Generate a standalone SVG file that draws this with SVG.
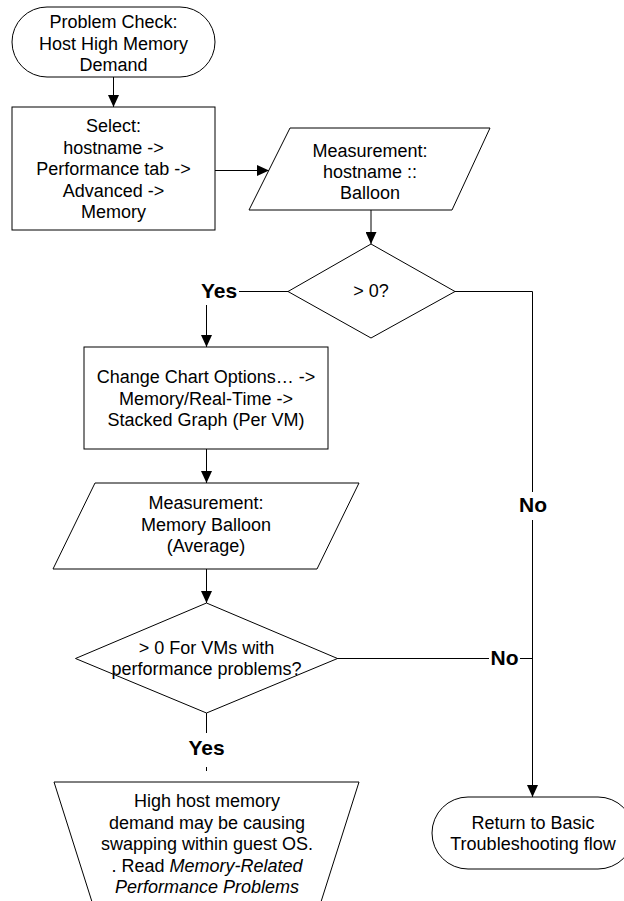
<svg xmlns="http://www.w3.org/2000/svg" width="624" height="901" viewBox="0 0 624 901">
<style>
.s{fill:#fff;stroke:#000;stroke-width:1}
.c{fill:none;stroke:#000;stroke-width:1}
.t{font-family:"Liberation Sans",Arial,sans-serif;font-size:18px;text-anchor:middle;fill:#000}
.l{font-family:"Liberation Sans",Arial,sans-serif;font-size:21px;font-weight:bold;text-anchor:middle;fill:#000}
.bg{fill:#fff;stroke:none}
</style>
<defs>
<marker id="ah" markerUnits="userSpaceOnUse" markerWidth="12" markerHeight="11" refX="12" refY="5.5" orient="auto">
<path d="M0,0 L12,5.5 L0,11 z" fill="#000"/>
</marker>
</defs>
<rect width="624" height="901" fill="#fff"/>
<g id="connectors">
<path class="c" d="M113.5,77 V107" marker-end="url(#ah)"/>
<path class="c" d="M215,170.5 H269" marker-end="url(#ah)"/>
<path class="c" d="M371,210 V244" marker-end="url(#ah)"/>
<path class="c" d="M288,291.5 H206.5 V347" marker-end="url(#ah)"/>
<path class="c" d="M206.5,449 V483" marker-end="url(#ah)"/>
<path class="c" d="M206.5,569 V603" marker-end="url(#ah)"/>
<path class="c" d="M455,291.5 H532.5 V797" marker-end="url(#ah)"/>
<path class="c" d="M337,658.5 H532.5"/>
<path class="c" d="M206.5,713 V771"/>
<rect class="bg" x="198" y="281" width="41" height="24"/>
<text class="l" x="219" y="298">Yes</text>
<rect class="bg" x="516" y="492" width="34" height="28"/>
<text class="l" x="533" y="512">No</text>
<rect class="bg" x="489" y="646" width="31" height="22"/>
<text class="l" x="504.5" y="665">No</text>
<rect class="bg" x="186" y="733" width="41" height="34"/>
<text class="l" x="206.5" y="755">Yes</text>
</g>
<g id="start">
<rect class="s" x="12" y="7" width="203" height="70" rx="35" ry="35"/>
<text class="t" x="113.5" y="28">Problem Check:</text>
<text class="t" x="113.5" y="49.5">Host High Memory</text>
<text class="t" x="113.5" y="71">Demand</text>
</g>
<g id="select">
<rect class="s" x="12" y="107" width="203" height="123"/>
<text class="t" x="113.5" y="132">Select:</text>
<text class="t" x="113.5" y="153.5">hostname -&gt;</text>
<text class="t" x="113.5" y="175">Performance tab -&gt;</text>
<text class="t" x="113.5" y="196.5">Advanced -&gt;</text>
<text class="t" x="113.5" y="218">Memory</text>
</g>
<g id="measure1">
<polygon class="s" points="290,128 490,128 452,210 249,210"/>
<text class="t" x="370" y="156.5">Measurement:</text>
<text class="t" x="370" y="178">hostname ::</text>
<text class="t" x="370" y="199">Balloon</text>
</g>
<g id="decision1">
<polygon class="s" points="371,244 455,291.5 371,338 288,291.5"/>
<text class="t" x="371" y="297">&gt; 0?</text>
</g>
<g id="chart">
<rect class="s" x="84" y="347" width="244" height="102"/>
<text class="t" x="206" y="383">Change Chart Options… -&gt;</text>
<text class="t" x="206" y="404.5">Memory/Real-Time -&gt;</text>
<text class="t" x="206" y="426">Stacked Graph (Per VM)</text>
</g>
<g id="measure2">
<polygon class="s" points="95,483 359,483 317,569 53,569"/>
<text class="t" x="206" y="509">Measurement:</text>
<text class="t" x="206" y="530.5">Memory Balloon</text>
<text class="t" x="206" y="552">(Average)</text>
</g>
<g id="decision2">
<polygon class="s" points="206.5,603 337.5,658.5 206.5,713 75.5,658.5"/>
<text class="t" x="206.5" y="653.5">&gt; 0 For VMs with</text>
<text class="t" x="206.5" y="675">performance problems?</text>
</g>
<g id="result">
<polygon class="s" points="54,782 359,782 320,905 93,905"/>
<text class="t" x="207" y="807">High host memory</text>
<text class="t" x="207" y="828.5">demand may be causing</text>
<text class="t" x="207" y="850">swapping within guest OS.</text>
<text class="t" x="207" y="871.5">. Read <tspan font-style="italic">Memory-Related</tspan></text>
<text class="t" x="207" y="893" font-style="italic">Performance Problems</text>
</g>
<g id="return">
<rect class="s" x="432" y="797" width="202" height="72" rx="36" ry="36"/>
<text class="t" x="533" y="828.5">Return to Basic</text>
<text class="t" x="533" y="850">Troubleshooting flow</text>
</g>
</svg>
